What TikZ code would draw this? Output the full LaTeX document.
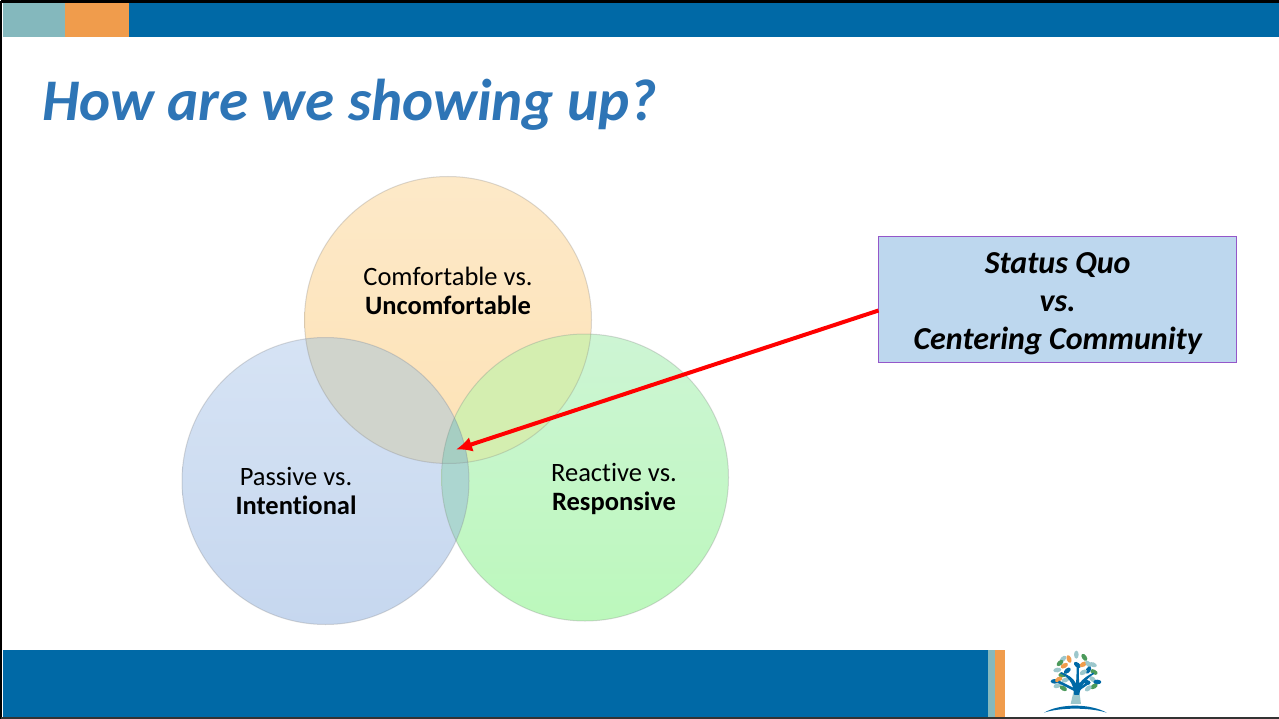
\documentclass[tikz,border=0pt]{standalone}
\usepackage{fontspec}
\usetikzlibrary{arrows.meta}
\setmainfont[Ligatures=NoCommon]{Carlito}
\definecolor{barblue}{HTML}{0069A6}
\definecolor{barteal}{HTML}{84B8BD}
\definecolor{barorange}{HTML}{F09C4C}
\definecolor{titleblue}{HTML}{2E75B6}
\definecolor{boxfill}{HTML}{BDD7EE}
\definecolor{boxline}{HTML}{9457C9}
\definecolor{leafgreen}{HTML}{4C9A5B}
\definecolor{leaflight}{HTML}{9CC7CC}
\definecolor{overTL}{RGB}{208,212,204}
\definecolor{overTR}{RGB}{212,238,176}
\definecolor{overLR}{RGB}{172,214,208}
\definecolor{overAll}{RGB}{166,206,194}
\tikzset{
 x=1pt,y=-1pt,
 vcircle/.style={circle,inner sep=0pt,minimum size=287pt},
 vrim/.style={draw=gray,line width=1pt,draw opacity=.28},
 bar/.style={fill=#1,draw=none},
 vlabel/.style={align=center,font=\fontsize{26.5}{29}\selectfont,inner sep=0pt}
}
\newcommand{\leaf}[4]{\fill[#4,rotate around={#3:(#1,#2)}] (#1,#2) ellipse (12 and 7);}
\begin{document}
\begin{tikzpicture}
\useasboundingbox (0,0) rectangle (1279,719);
\fill[white] (0,0) rectangle (1279,719);
% bars
\fill[bar=barblue] (129,3) rectangle (1279,37);
\fill[bar=barteal] (3,3) rectangle (65,37);
\fill[bar=barorange] (65,3) rectangle (129,37);
\fill[bar=barblue] (3,650) rectangle (988,717);
\fill[bar=barteal] (988,650) rectangle (995,717);
\fill[bar=barorange] (995,650) rectangle (1005,717);
\draw[black,line width=3pt] (1.4,1.4) -- (1279,1.4);
\draw[black,line width=2.5pt] (1.2,1.2) -- (1.2,719);
\draw[black!80,line width=2pt] (1.2,718) -- (1279,718);
% title
\node[anchor=base west,inner sep=0pt,text=titleblue,font=\fontsize{59}{66}\selectfont\bfseries\itshape] (title) at (42,120.5) {How are we showing up?};
% circles
\node[vcircle,top color={rgb,255:red,253;green,233;blue,200},bottom color={rgb,255:red,253;green,226;blue,182}] (top) at (448,320) {};
\node[vcircle,top color={rgb,255:red,214;green,227;blue,244},bottom color={rgb,255:red,198;green,215;blue,239}] (left) at (325.5,481) {};
\node[vcircle,top color={rgb,255:red,205;green,245;blue,212},bottom color={rgb,255:red,188;green,248;blue,188}] (right) at (585,477.5) {};
\begin{scope}
\clip (top.center) circle (143.5);
\fill[overTL] (left.center) circle (143.5);
\fill[overTR] (right.center) circle (143.5);
\end{scope}
\begin{scope}
\clip (left.center) circle (143.5);
\fill[overLR] (right.center) circle (143.5);
\clip (right.center) circle (143.5);
\fill[overAll] (top.center) circle (143.5);
\end{scope}
\draw[vrim] (top.center) circle (143.5);
\draw[vrim] (left.center) circle (143.5);
\draw[vrim] (right.center) circle (143.5);
\node[vlabel] (toplabel) at (448,291) {Comfortable vs.\\\textbf{Uncomfortable}};
\node[vlabel] (leftlabel) at (296,491) {Passive vs.\\\textbf{Intentional}};
\node[vlabel] (rightlabel) at (614,488.5) {Reactive vs.\\\textbf{Responsive}};
% box
\node[draw=boxline,fill=boxfill,line width=1pt,minimum width=358pt,minimum height=125pt,inner sep=0pt] (box) at (1057.7,299.5) {};
\node[align=center,inner sep=0pt,font=\fontsize{32}{38}\selectfont\bfseries\itshape] (boxtext) at (1057.7,303.5) {Status Quo\\vs.\\Centering Community};
\coordinate (tip) at (456,449.5);
\coordinate (tail) at (878.5,310.5);
\draw[red,line width=4pt,-{Latex[length=16pt,width=15pt]}] (tail) -- (tip);
% logo
\begin{scope}[shift={(980,640)},scale=.3333]
\fill[barblue] (192,218) .. controls (240,190) and (330,190) .. (380,218) .. controls (330,202) and (240,202) .. (192,218) -- cycle;
\fill[leaflight] (272,192) -- (284,140) -- (296,140) -- (303,192) -- cycle;
\leaf{289}{44}{90}{leaflight}
\leaf{313}{52}{-55}{leafgreen}
\leaf{267}{57}{-70}{barorange}
\leaf{249}{57}{45}{leaflight}
\leaf{240}{69}{40}{leafgreen}
\leaf{253}{77}{30}{barorange}
\leaf{292}{75}{-40}{barblue}
\leaf{310}{73}{30}{barorange}
\leaf{325}{72}{-50}{leaflight}
\leaf{339}{74}{-20}{leaflight}
\leaf{342}{96}{-30}{leafgreen}
\leaf{232}{90}{10}{leaflight}
\leaf{262}{92}{40}{barblue}
\leaf{325}{90}{60}{barblue}
\leaf{247}{105}{0}{leafgreen}
\leaf{310}{97}{30}{leaflight}
\leaf{224}{124}{0}{barblue}
\leaf{236}{118}{30}{barorange}
\leaf{256}{120}{20}{leaflight}
\leaf{338}{118}{-40}{leaflight}
\leaf{352}{126}{0}{barblue}
\leaf{320}{126}{-30}{barblue}
\leaf{232}{137}{20}{leaflight}
\leaf{250}{145}{-30}{leafgreen}
\leaf{342}{139}{30}{leafgreen}
\leaf{325}{145}{40}{leaflight}
\fill[barblue] (283,165) .. controls (280,125) and (262,110) .. (240,100) -- (243,96) .. controls (265,105) and (278,112) .. (288,130) .. controls (290,105) and (290,85) .. (290,70) -- (296,70) .. controls (297,95) and (296,115) .. (298,130) .. controls (310,115) and (325,105) .. (340,98) -- (342,102) .. controls (320,115) and (303,135) .. (297,165) -- cycle;
\draw[barblue,line width=2.5pt] (285,150) -- (235,125);
\draw[barblue,line width=2.5pt] (294,150) -- (330,125);
\end{scope}
\end{tikzpicture}
\end{document}
